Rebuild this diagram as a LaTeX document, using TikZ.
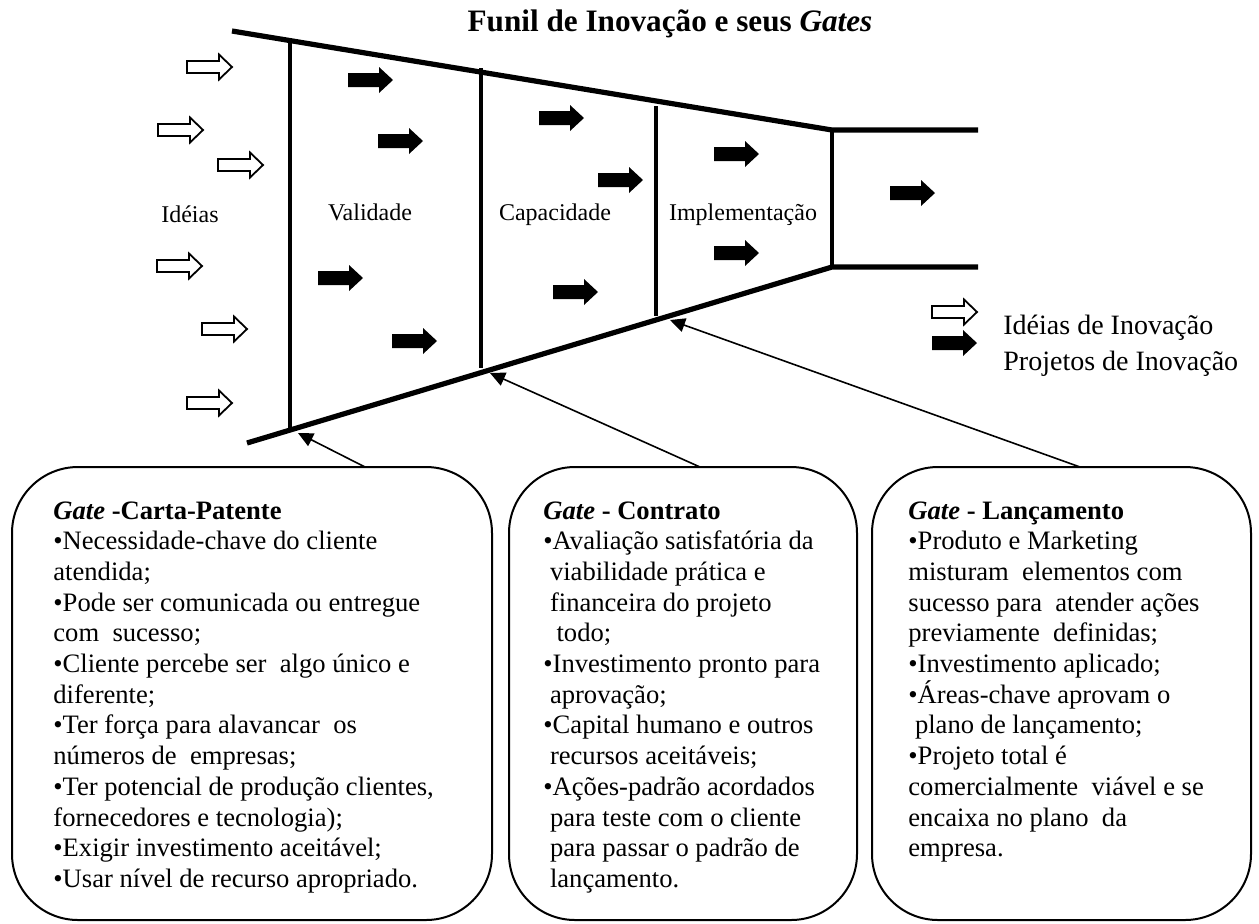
\documentclass[tikz,border=0pt]{standalone}
\usepackage{fontspec}
\setmainfont{Liberation Serif}
\usetikzlibrary{arrows.meta}
\tikzset{
  funnel/.style={line width=2.6pt},
  gateline/.style={line width=2.1pt},
  conn/.style={line width=0.8pt,-{Triangle[length=7.5pt,width=7pt]}},
  gatebox/.style={draw,line width=1pt,rounded corners=33pt,anchor=north west,inner sep=0pt,outer sep=0pt,minimum height=226.5pt},
  boxtext/.style={anchor=north west,inner sep=0pt,align=left,font=\fontsize{13.3}{15.35}\selectfont},
  stage/.style={anchor=base,inner sep=0pt,font=\fontsize{12}{14}\selectfont},
  legend/.style={anchor=base west,inner sep=0pt,font=\fontsize{14}{16}\selectfont},
  ideaarrow/.pic={\draw[line width=0.9pt,fill=white] (0,-6)--(32,-6)--(32,-12.5)--(45,0)--(32,12.5)--(32,6)--(0,6)--cycle;},
  projarrow/.pic={\fill (0,-7)--(31,-7)--(31,-13)--(45,0)--(31,13)--(31,7)--(0,7)--cycle;}
}
\begin{document}
\begin{tikzpicture}[x=0.5pt,y=-0.5pt]
\useasboundingbox (0,0) rectangle (1259,923);

% title
\node[anchor=base,inner sep=0pt,font=\fontsize{15.6}{18}\selectfont\bfseries] (title) at (670,31) {Funil de Inovação e seus \textit{Gates}};

% funnel outline
\coordinate (tl) at (232,31);
\coordinate (tr) at (832,130);
\coordinate (br) at (832,267);
\coordinate (bl) at (247,443);
\coordinate (outtop) at (978,130);
\coordinate (outbot) at (978,267);
\draw[funnel] (tl) -- (tr) -- (outtop);
\draw[funnel] (bl) -- (br) -- (outbot);

% gates
\coordinate (g1a) at (290,40);  \coordinate (g1b) at (290,430);
\coordinate (g2a) at (481,68);  \coordinate (g2b) at (481,368);
\coordinate (g3a) at (656,106); \coordinate (g3b) at (656,316);
\draw[gateline] (g1a) -- (g1b);
\draw[gateline] (g2a) -- (g2b);
\draw[gateline] (g3a) -- (g3b);
\draw[gateline] (tr) -- (br);

% stage labels
\node[stage] (lid) at (190,222) {Idéias};
\node[stage] (lva) at (370,220) {Validade};
\node[stage] (lca) at (555,220) {Capacidade};
\node[stage] (lim) at (743,220) {Implementação};

% idea arrows (hollow)
\pic at (187,67) {ideaarrow};
\pic at (158,130) {ideaarrow};
\pic at (218,165) {ideaarrow};
\pic at (157,266) {ideaarrow};
\pic at (202,329) {ideaarrow};
\pic at (187,403) {ideaarrow};

% project arrows (filled)
\pic at (348,80) {projarrow};
\pic at (378,141) {projarrow};
\pic at (318,278) {projarrow};
\pic at (392,341) {projarrow};
\pic at (539,118) {projarrow};
\pic at (598,180) {projarrow};
\pic at (553,292) {projarrow};
\pic at (714,154) {projarrow};
\pic at (714,253) {projarrow};
\pic at (890,193) {projarrow};

% legend
\pic at (932,312) {ideaarrow};
\pic at (932,343) {projarrow};
\node[legend] (leg1) at (1003,334) {Idéias de Inovação};
\node[legend] (leg2) at (1003,370) {Projetos de Inovação};

% boxes
\node[gatebox,minimum width=240pt] (b1) at (12,467) {};
\node[gatebox,minimum width=174pt] (b2) at (509,467) {};
\node[gatebox,minimum width=189.5pt] (b3) at (872,467) {};

% connectors
\coordinate (g1tip) at (298,433);
\coordinate (g2tip) at (490,373);
\coordinate (g3tip) at (670,320);
\coordinate (b1top) at (365,467);
\coordinate (b2top) at (700,467);
\coordinate (b3top) at (1080,467);
\draw[conn] (b1top) -- (g1tip);
\draw[conn] (b2top) -- (g2tip);
\draw[conn] (b3top) -- (g3tip);

% box texts
\node[boxtext] (t1) at (53,501) {\textbf{\textit{Gate} -Carta-Patente}\\
•Necessidade-chave do cliente\\
atendida;\\
•Pode ser comunicada ou entregue\\
com\ \ sucesso;\\
•Cliente percebe ser\ \ algo único e\\
diferente;\\
•Ter força para alavancar\ \ os\\
números de\ \ empresas;\\
•Ter potencial de produção clientes,\\
fornecedores e tecnologia);\\
•Exigir investimento aceitável;\\
•Usar nível de recurso apropriado.};

\node[boxtext] (t2) at (543,501) {\textbf{\textit{Gate} - Contrato}\\
•Avaliação satisfatória da\\
\hspace*{3.3pt}viabilidade prática e\\
\hspace*{3.3pt}financeira do projeto\\
\hspace*{6.6pt}todo;\\
•Investimento pronto para\\
\hspace*{3.3pt}aprovação;\\
•Capital humano e outros\\
\hspace*{3.3pt}recursos aceitáveis;\\
•Ações-padrão acordados\\
\hspace*{3.3pt}para teste com o cliente\\
\hspace*{3.3pt}para passar o padrão de\\
\hspace*{3.3pt}lançamento.};

\node[boxtext] (t3) at (908,501) {\textbf{\textit{Gate} - Lançamento}\\
•Produto e Marketing\\
misturam\ \ elementos com\\
sucesso para\ \ atender ações\\
previamente\ \ definidas;\\
•Investimento aplicado;\\
•Áreas-chave aprovam o\\
\hspace*{3.3pt}plano de lançamento;\\
•Projeto total é\\
comercialmente\ \ viável e se\\
encaixa no plano\ \ da\\
empresa.};
\end{tikzpicture}
\end{document}
